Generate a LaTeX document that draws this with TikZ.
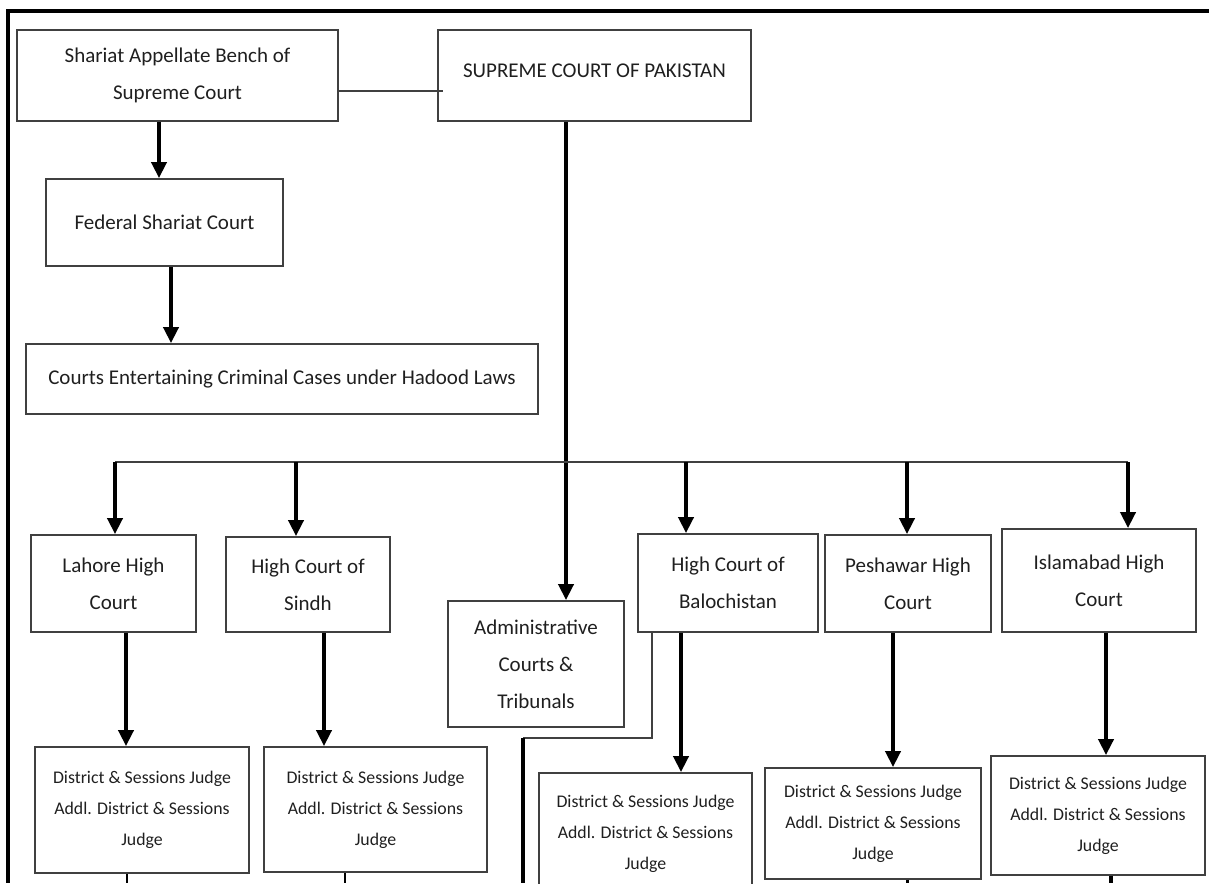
\documentclass[tikz,border=0pt]{standalone}
\usepackage{fontspec}
\setmainfont{Carlito}
\usetikzlibrary{arrows.meta}
\newcommand{\courtfont}{\fontsize{10.5}{18.5}\selectfont}
\newcommand{\judgefont}{\fontsize{8.9}{15.5}\selectfont}
\tikzset{
    court/.style={
           rectangle,
           draw=black!75, line width=0.9pt,
           inner sep=0pt,
           align=center,
           text=black!88,
           font=\courtfont
           },
    judge/.style={
           court,
           font=\judgefont
           },
    sz/.style 2 args={
           minimum width=#1pt,
           minimum height=#2pt
           },
    link/.style={draw=black!75, line width=0.9pt},
    trunk/.style={line width=1.9pt},
    arr/.style={
           line width=1.9pt,
           -{Triangle[length=8pt,width=7.5pt]}
           }
}
\begin{document}
\begin{tikzpicture}[x=0.5pt,y=-0.5pt]
   \clip (0,0) rectangle (1209,883);
   % frame
   \draw[line width=1.8pt] (1209,11) -- (8,11) -- (8,883);

   % upper courts
   \node[court, sz={160.5}{45.5}] (sab) at (177.5,75.5) {Shariat Appellate Bench of\\Supreme Court};
   \node[court, sz={156.5}{45.5}, text depth=5pt] (scp) at (594.5,75.5) {SUPREME COURT OF PAKISTAN};
   \node[court, sz={118.5}{43.5}] (fsc) at (164.5,222.5) {Federal Shariat Court};
   \node[court, sz={256}{35}] (hud) at (282,379) {Courts Entertaining Criminal Cases under Hadood Laws};

   % high courts
   \node[court, sz={82.5}{48.5}] (lhc) at (113.5,583.5) {Lahore High\\Court};
   \node[court, sz={82}{47.5}] (shc) at (308,584.5) {High Court of\\Sindh};
   \node[court, sz={88}{63}] (adm) at (536,664) {Administrative\\Courts \&\\Tribunals};
   \node[court, sz={90}{49}] (bhc) at (728,583) {High Court of\\Balochistan};
   \node[court, sz={83}{48.5}] (phc) at (908,583.5) {Peshawar High\\Court};
   \node[court, sz={97}{51.5}] (ihc) at (1099,580.5) {Islamabad High\\Court};

   % district courts
   \node[judge, sz={107}{63}] (ldj) at (142,810) {District \& Sessions Judge\\Addl. District \& Sessions\\Judge};
   \node[judge, sz={111.5}{62.5}] (sdj) at (375.5,809.5) {District \& Sessions Judge\\Addl. District \& Sessions\\Judge};
   \node[judge, sz={106.5}{61}] (bdj) at (645.5,834) {District \& Sessions Judge\\Addl. District \& Sessions\\Judge};
   \node[judge, sz={108}{55.5}] (pdj) at (873,823.5) {District \& Sessions Judge\\Addl. District \& Sessions\\Judge};
   \node[judge, sz={107}{59.5}] (idj) at (1098,815.5) {District \& Sessions Judge\\Addl. District \& Sessions\\Judge};

   % shariat side
   \coordinate (j1) at (443,91);
   \coordinate (j2) at (159,0);
   \coordinate (j3) at (171,0);
   \draw[link] (sab.east |- j1) -- (j1);
   \draw[arr] (sab.south -| j2) -- (fsc.north -| j2);
   \draw[arr] (fsc.south -| j3) -- (hud.north -| j3);

   % trunk and bus
   \coordinate (tr) at (566,0);
   \draw[arr] (scp.south -| tr) -- (adm.north -| tr);
   \foreach \x [count=\i] in {115,296,686,907,1128}
      \coordinate (b\i) at (\x,462);
   \draw[link] (b1) -- (b5);
   \foreach \i/\n in {1/lhc,2/shc,3/bhc,4/phc,5/ihc}
      \draw[arr] (b\i) -- (b\i |- \n.north);

   % high court to district
   \foreach \x/\a/\b in {126/lhc/ldj,324/shc/sdj,681/bhc/bdj,893/phc/pdj,1106/ihc/idj}{
      \coordinate (t) at (\x,0);
      \draw[arr] (t |- \a.south) -- (t |- \b.north);
   }

   % balochistan side route
   \coordinate (k1) at (652,738);
   \coordinate (k2) at (523,738);
   \coordinate (k3) at (523,883);
   \draw[link] (bhc.south -| k1) -- (k1) -- (k2);
   \draw[trunk] (k2) -- (k3);

   % stubs below
   \foreach \x/\n/\w in {127/ldj/0.9,345/sdj/0.9,907/pdj/1.5,1111/idj/1.9}{
      \coordinate (e) at (\x,883);
      \draw[line width=\w pt] (e |- \n.south) -- (e);
   }
\end{tikzpicture}
\end{document}
